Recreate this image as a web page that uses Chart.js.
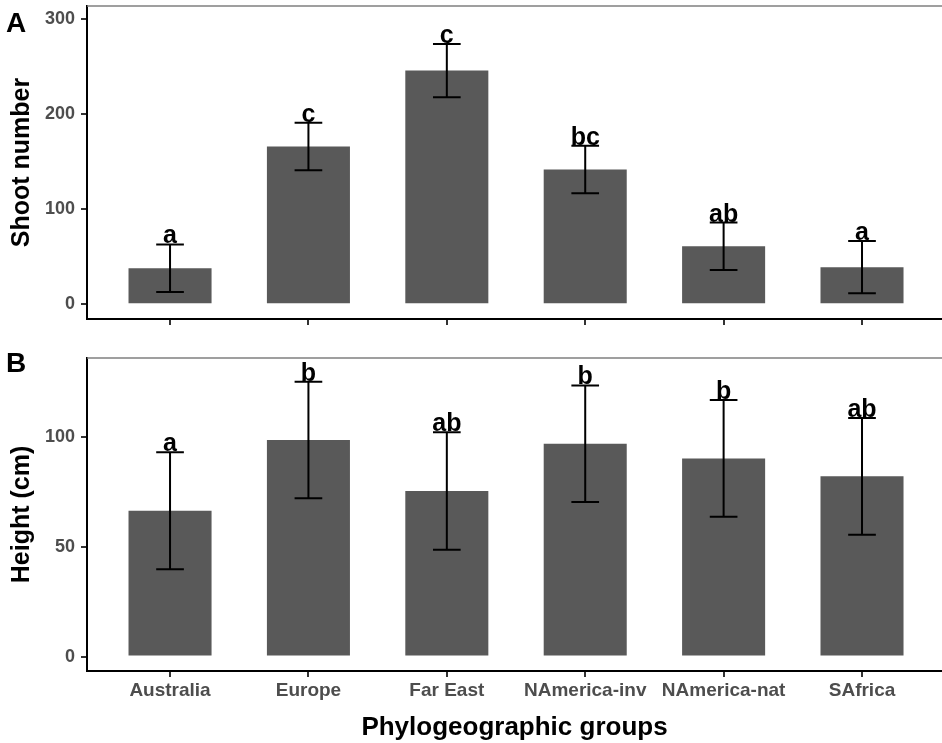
<!DOCTYPE html>
<html lang="en">
<head>
  <meta charset="UTF-8" />
  <title>Shoot number and height by phylogeographic group</title>
  <script src="https://cdn.jsdelivr.net/npm/chart.js"></script>
  <style>
    body { margin: 0; background: #fff; font-family: "Liberation Sans", Arial, sans-serif; }
    .panel { position: absolute; left: 0; width: 942px; }
    #panelA { top: 0; height: 330px; }
    #panelB { top: 330px; height: 413px; }
    .tag { position: absolute; left: 6px; font-size: 28px; font-weight: bold; line-height: 1; color: #000; }
  </style>
</head>
<body>
  <div class="panel" id="panelA"><canvas id="shootChart"></canvas></div>
  <div class="panel" id="panelB"><canvas id="heightChart"></canvas></div>
  <div class="tag" style="top: 9px;">A</div>
  <div class="tag" style="top: 349px;">B</div>

  <script>
    const categories = ['Australia', 'Europe', 'Far East', 'NAmerica-inv', 'NAmerica-nat', 'SAfrica'];

    const shootMean = [38, 166, 246, 142, 61, 39];
    const shootErr = [25, 25, 28, 25, 25, 27.5];
    const shootLetters = ['a', 'c', 'c', 'bc', 'ab', 'a'];
    const shootTicks = [0, 100, 200, 300];

    const heightMean = [66.5, 98.8, 75.5, 97.1, 90.4, 82.2];
    const heightErr = [26.7, 26.6, 26.8, 26.6, 26.6, 26.6];
    const heightLetters = ['a', 'b', 'ab', 'b', 'b', 'ab'];
    const heightTicks = [0, 50, 100];

    const FONT = '"Liberation Sans", Arial, sans-serif';

    // error bars, group letters and the grey top border
    const panelDecor = {
      id: 'panelDecor',
      afterDatasetsDraw(chart) {
        const { ctx, chartArea: area } = chart;
        const x = chart.scales.x, y = chart.scales.y;
        const ds = chart.data.datasets[0];
        const half = x.getPixelForValue(0.1) - x.getPixelForValue(0);

        ctx.save();
        ctx.strokeStyle = '#7f7f7f';
        ctx.lineWidth = 1.5;
        ctx.beginPath();
        ctx.moveTo(area.left, area.top);
        ctx.lineTo(area.right, area.top);
        ctx.stroke();

        ctx.strokeStyle = '#000';
        ctx.lineWidth = 2;
        ctx.fillStyle = '#000';
        ctx.font = 'bold 25px ' + FONT;
        ctx.textAlign = 'center';
        ctx.textBaseline = 'alphabetic';
        ds.data.forEach((pt, i) => {
          const cx = x.getPixelForValue(pt.x);
          const hi = y.getPixelForValue(pt.y + ds.errors[i]);
          const lo = y.getPixelForValue(pt.y - ds.errors[i]);
          ctx.beginPath();
          ctx.moveTo(cx, hi); ctx.lineTo(cx, lo);
          ctx.moveTo(cx - half, hi); ctx.lineTo(cx + half, hi);
          ctx.moveTo(cx - half, lo); ctx.lineTo(cx + half, lo);
          ctx.stroke();
          ctx.fillText(ds.letters[i], cx, hi - 1);
        });
        ctx.restore();
      }
    };

    function buildPanel(id, cfg) {
      return new Chart(document.getElementById(id), {
        type: 'bar',
        data: {
          datasets: [{
            data: cfg.means.map((v, i) => ({ x: i, y: v })),
            errors: cfg.errs,
            letters: cfg.letters,
            backgroundColor: '#595959',
            categoryPercentage: 1,
            barPercentage: 0.6
          }]
        },
        options: {
          responsive: true,
          maintainAspectRatio: false,
          animation: false,
          layout: { padding: { top: cfg.padTop, left: 0, right: 0, bottom: 0 } },
          plugins: { legend: { display: false }, tooltip: { enabled: false } },
          scales: {
            x: {
              type: 'linear',
              offset: false,
              min: -0.6,
              max: 5.578,
              afterBuildTicks: s => { s.ticks = categories.map((c, i) => ({ value: i })); },
              afterFit: s => { s.height = cfg.xHeight; s.paddingLeft = 0; s.paddingRight = 0; },
              grid: { offset: false, drawOnChartArea: false, color: '#333', lineWidth: 2, tickLength: 6 },
              border: { color: '#000', width: 2 },
              ticks: {
                display: cfg.xLabels,
                callback: v => categories[v],
                color: '#4d4d4d',
                font: { family: FONT, size: 19, weight: 'bold' },
                padding: 2,
                maxRotation: 0,
                autoSkip: false
              },
              title: {
                display: cfg.xLabels,
                text: 'Phylogeographic groups',
                color: '#000',
                font: { family: FONT, size: 26, weight: 'bold' },
                padding: { top: 0, bottom: 0 }
              }
            },
            y: {
              min: cfg.min,
              max: cfg.max,
              afterBuildTicks: s => { s.ticks = cfg.ticks.map(v => ({ value: v })); },
              afterFit: s => { s.width = 87; s.paddingTop = 0; s.paddingBottom = 0; },
              grid: { drawOnChartArea: false, color: '#333', lineWidth: 2, tickLength: 6 },
              border: { color: '#000', width: 2 },
              ticks: {
                color: '#4d4d4d',
                font: { family: FONT, size: 18, weight: 'bold' },
                padding: 6
              },
              title: {
                display: true,
                text: cfg.yTitle,
                color: '#000',
                font: { family: FONT, size: 25, weight: 'bold' },
                padding: { top: 7, bottom: 0 }
              }
            }
          }
        },
        plugins: [panelDecor]
      });
    }

    buildPanel('shootChart', {
      means: shootMean, errs: shootErr, letters: shootLetters, ticks: shootTicks,
      min: -15.5, max: 314, yTitle: 'Shoot number',
      padTop: 6, xHeight: 11, xLabels: false
    });

    buildPanel('heightChart', {
      means: heightMean, errs: heightErr, letters: heightLetters, ticks: heightTicks,
      min: -6.6, max: 136.2, yTitle: 'Height (cm)',
      padTop: 28, xHeight: 72, xLabels: true
    });
  </script>
</body>
</html>
